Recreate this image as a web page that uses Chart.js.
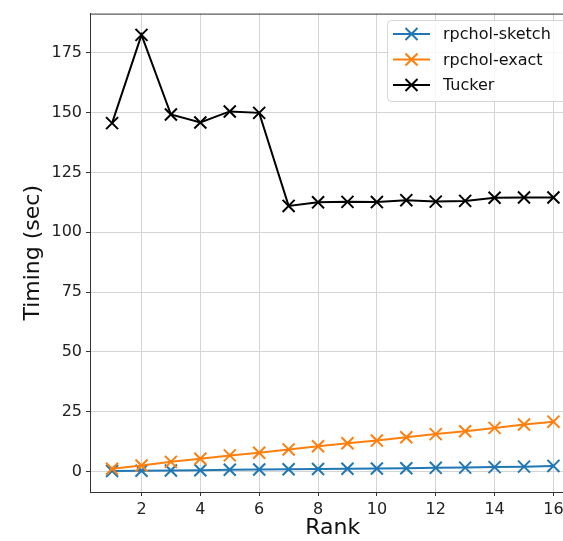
<!DOCTYPE html>
<html><head><meta charset="utf-8">
<script src="https://cdn.jsdelivr.net/npm/chart.js@4/dist/chart.umd.min.js"></script>
<style>
html,body{margin:0;padding:0;background:#fff;overflow:hidden;width:563px;height:541px;}
#wrap{position:absolute;left:0;top:0;width:586px;height:541px;}
</style></head><body>
<div id="wrap"><canvas id="c"></canvas></div>
<script>
const ranks  = [1,2,3,4,5,6,7,8,9,10,11,12,13,14,15,16];
const sketch = [0.2,0.3,0.4,0.5,0.7,0.8,0.9,1.0,1.1,1.2,1.3,1.5,1.6,1.8,2.0,2.3];
const exact  = [1.1,2.5,4.0,5.3,6.7,7.8,9.2,10.5,11.8,12.9,14.3,15.6,16.8,18.2,19.6,20.8];
const tucker = [145.6,182.5,149.2,145.9,150.5,149.9,111.0,112.5,112.7,112.6,113.4,112.8,113.1,114.4,114.5,114.5];
const seriesNames  = ['rpchol-sketch','rpchol-exact','Tucker'];
const seriesColors = ['#1f77b4','#ff7f0e','#000000'];
const xTicks = [2,4,6,8,10,12,14,16];
const yTicks = [0,25,50,75,100,125,150,175];
const xTitle = 'Rank';
const yTitle = 'Timing (sec)';

const FONT = "'DejaVu Sans', sans-serif";
const series = [sketch, exact, tucker];

const datasets = series.map((vals, i) => ({
  label: seriesNames[i],
  data: ranks.map((r, j) => ({x: r, y: vals[j]})),
  borderColor: seriesColors[i],
  backgroundColor: seriesColors[i],
  borderWidth: 2,
  pointStyle: 'crossRot',
  pointRadius: 8.5,
  pointHoverRadius: 8.5,
  pointBorderWidth: 2,
  pointBorderColor: seriesColors[i],
  tension: 0,
  fill: false,
  order: 3 - i
}));

const mplPlugin = {
  id: 'mpl',
  afterDraw(chart) {
    const ctx = chart.ctx;
    const a = chart.chartArea;
    ctx.save();
    // top spine
    ctx.strokeStyle = '#333';
    ctx.lineWidth = 1;
    ctx.beginPath();
    ctx.moveTo(a.left, a.top + 0.5);
    ctx.lineTo(a.right, a.top + 0.5);
    ctx.stroke();
    // legend
    const x0 = 387.5, y0 = 20.5, w = 182, h = 81, r = 4;
    ctx.beginPath();
    ctx.moveTo(x0 + r, y0);
    ctx.lineTo(x0 + w - r, y0);
    ctx.arcTo(x0 + w, y0, x0 + w, y0 + r, r);
    ctx.lineTo(x0 + w, y0 + h - r);
    ctx.arcTo(x0 + w, y0 + h, x0 + w - r, y0 + h, r);
    ctx.lineTo(x0 + r, y0 + h);
    ctx.arcTo(x0, y0 + h, x0, y0 + h - r, r);
    ctx.lineTo(x0, y0 + r);
    ctx.arcTo(x0, y0, x0 + r, y0, r);
    ctx.closePath();
    ctx.fillStyle = 'rgba(255,255,255,0.8)';
    ctx.fill();
    ctx.strokeStyle = '#d6d6d6';
    ctx.stroke();
    ctx.font = '16px ' + FONT;
    ctx.textBaseline = 'middle';
    ctx.textAlign = 'left';
    chart.data.datasets.forEach((ds, i) => {
      const cy = 34 + i * 25.5;
      ctx.strokeStyle = ds.borderColor;
      ctx.lineWidth = 2;
      ctx.beginPath();
      ctx.moveTo(393, cy);
      ctx.lineTo(430, cy);
      ctx.stroke();
      const mx = 411.5, s = 6;
      ctx.beginPath();
      ctx.moveTo(mx - s, cy - s); ctx.lineTo(mx + s, cy + s);
      ctx.moveTo(mx - s, cy + s); ctx.lineTo(mx + s, cy - s);
      ctx.stroke();
      ctx.fillStyle = '#111';
      ctx.fillText(ds.label, 443, cy + 1);
    });
    ctx.restore();
  }
};

new Chart(document.getElementById('c'), {
  type: 'line',
  data: { datasets },
  options: {
    responsive: true,
    maintainAspectRatio: false,
    animation: false,
    events: [],
    layout: { padding: { top: 12, right: 10, left: 0, bottom: 0 } },
    plugins: { legend: { display: false }, tooltip: { enabled: false } },
    scales: {
      x: {
        type: 'linear',
        min: 0.25, max: 16.75,
        afterBuildTicks: s => { s.ticks = xTicks.map(v => ({value: v})); },
        afterFit: s => { s.height = 49; },
        grid: { color: '#d4d4d4', lineWidth: 1, drawTicks: true, tickLength: 4, tickColor: '#333' },
        border: { display: true, color: '#333', width: 1 },
        ticks: { font: { family: FONT, size: 16 }, color: '#222', padding: 4, maxRotation: 0 },
        title: { display: true, text: xTitle, font: { family: FONT, size: 22 }, color: '#111', padding: { top: 0, bottom: 0 } }
      },
      y: {
        type: 'linear',
        min: -8.6, max: 191.4,
        afterBuildTicks: s => { s.ticks = yTicks.map(v => ({value: v})); },
        afterFit: s => { s.width = 90; },
        grid: { color: '#d4d4d4', lineWidth: 1, drawTicks: true, tickLength: 4, tickColor: '#333' },
        border: { display: true, color: '#333', width: 1 },
        ticks: { font: { family: FONT, size: 16 }, color: '#222', padding: 4 },
        title: { display: true, text: yTitle, font: { family: FONT, size: 22 }, color: '#111', padding: { top: 20, bottom: 0 } }
      }
    }
  },
  plugins: [mplPlugin]
});
</script>
</body></html>
